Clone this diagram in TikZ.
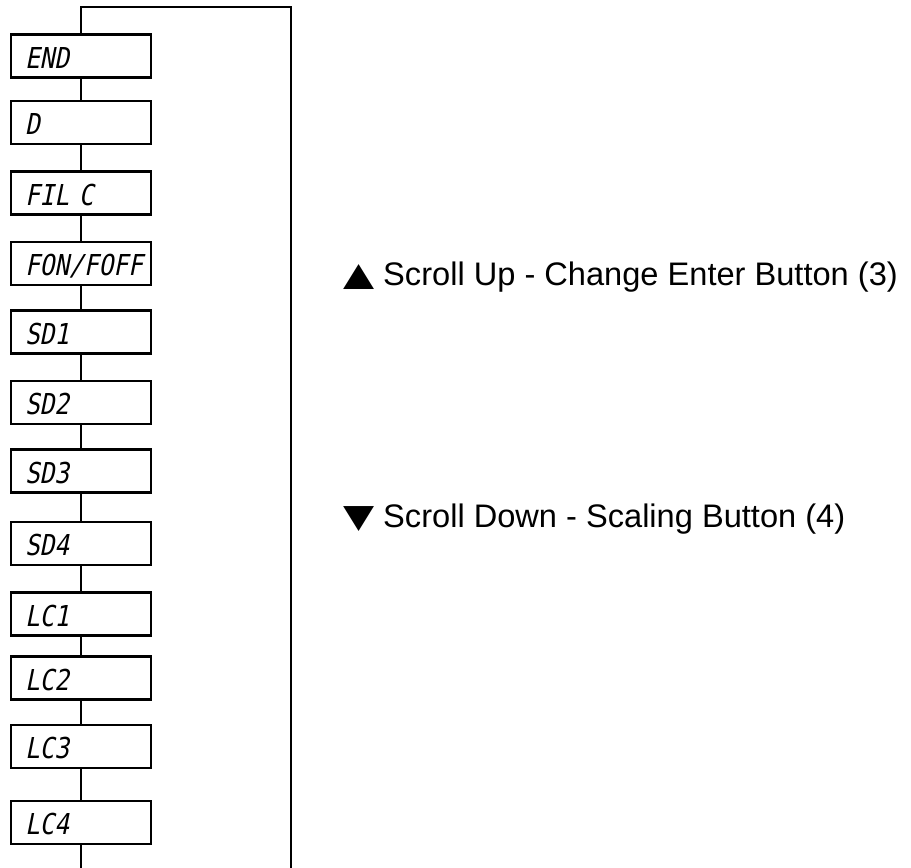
\documentclass[tikz,border=0pt]{standalone}
\usepackage{graphicx}
\usepackage{fontspec}
\setmainfont{Liberation Sans}
\newfontfamily\lcdfont[FakeSlant=0.2,FakeStretch=0.85]{DejaVu Sans Mono}
\newfontfamily\symfont{DejaVu Sans}
\newcommand{\arrowglyph}[1]{\scalebox{1.24}[1.0]{\symfont #1}}
\begin{document}
\begin{tikzpicture}[x=1pt,y=-1pt,line width=2.2pt,
  menubox/.style={draw, rectangle, minimum width=140pt, minimum height=43pt,
    inner xsep=14pt, inner ysep=0pt, text width=112pt, align=left,
    text height=24pt, text depth=0pt,
    font=\lcdfont\fontsize{28.8}{30}\selectfont},
  link/.style={draw, line width=2.2pt},
  hint/.style={anchor=base west, inner sep=0pt,
    font=\fontsize{32.6}{36}\selectfont}]
\useasboundingbox (0,0) rectangle (911,868);

% menu entries, top to bottom
\node[menubox] (end)  at (81,56)    {END};
\node[menubox] (d)    at (81,122.5) {D};
\node[menubox] (filc) at (81,193)   {FIL C};
\node[menubox] (fon)  at (81,263.5) {FON/FOFF};
\node[menubox] (sd1)  at (81,332)   {SD1};
\node[menubox] (sd2)  at (81,402.5) {SD2};
\node[menubox] (sd3)  at (81,471)   {SD3};
\node[menubox] (sd4)  at (81,543.5) {SD4};
\node[menubox] (lc1)  at (81,614)   {LC1};
\node[menubox] (lc2)  at (81,678)   {LC2};
\node[menubox] (lc3)  at (81,746.5) {LC3};
\node[menubox] (lc4)  at (81,822.5) {LC4};

% chain between entries
\foreach \a/\b in {end/d,d/filc,filc/fon,fon/sd1,sd1/sd2,sd2/sd3,sd3/sd4,
                   sd4/lc1,lc1/lc2,lc2/lc3,lc3/lc4}
  \draw[link] (\a.south) -- (\b.north);

% wrap-around loop
\coordinate (topleft)  at (81,7);
\coordinate (topright) at (291,7);
\coordinate (botright) at (291,868);
\coordinate (botleft)  at (81,868);
\draw[link] (end.north) -- (topleft) -- (topright) -- (botright);
\draw[link] (lc4.south) -- (botleft);

% button hints
\node[hint] (up)   at (342,285) {\arrowglyph{▲} Scroll Up - Change Enter Button (3)};
\node[hint] (down) at (342,527) {\arrowglyph{▼} Scroll Down - Scaling Button (4)};
\end{tikzpicture}
\end{document}
